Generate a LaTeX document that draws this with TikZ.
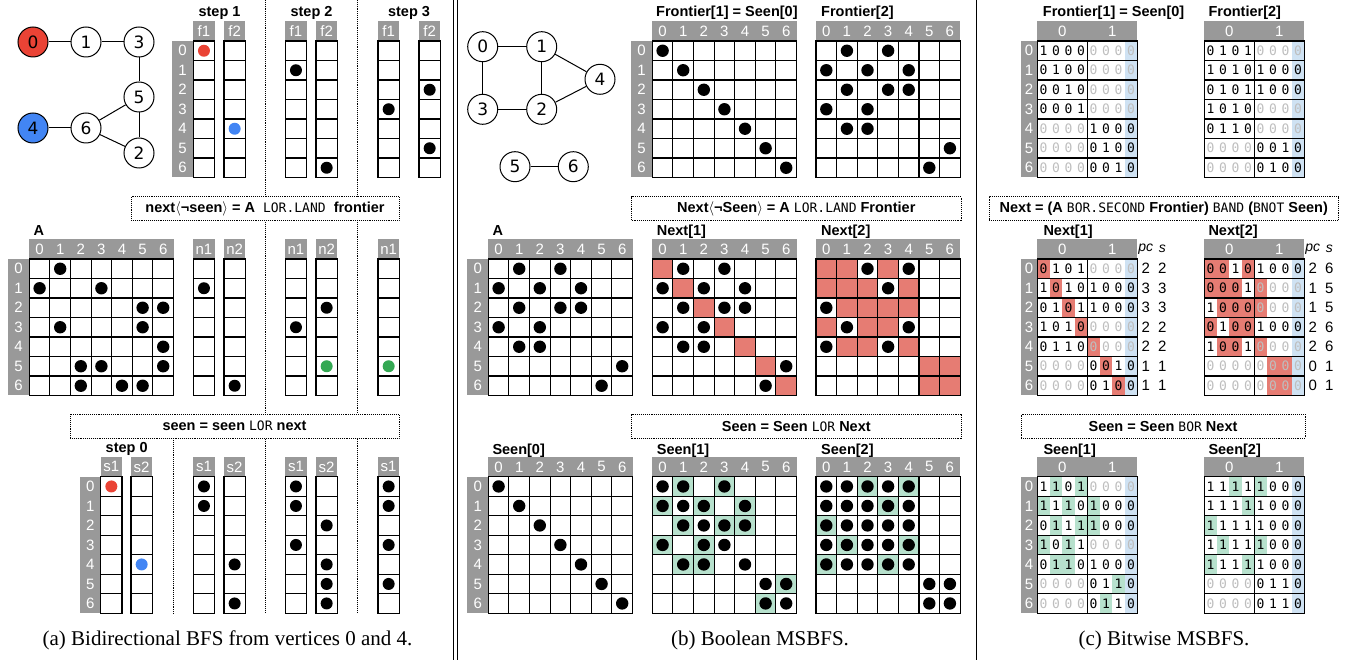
\documentclass[tikz,border=0pt]{standalone}
\usepackage{fontspec}
\setmainfont{Liberation Serif}
\setsansfont{Liberation Sans}
\newfontfamily\gfont{DejaVu Sans}
\newfontfamily\bitfont{DejaVu Sans Mono}
\usetikzlibrary{calc,positioning}

\definecolor{hdrgray}{RGB}{153,153,153}
\definecolor{srcred}{RGB}{234,67,53}
\definecolor{srcblue}{RGB}{66,133,244}
\definecolor{dotgreen}{RGB}{52,168,83}
\definecolor{shred}{RGB}{230,124,115}
\definecolor{shgreen}{RGB}{183,225,205}
\definecolor{bitblue}{RGB}{207,226,243}
\definecolor{faint}{RGB}{190,190,190}

\newcommand{\hdrfs}{\sffamily\fontsize{15}{15}\selectfont}
\newcommand{\ttlfs}{\sffamily\bfseries\fontsize{14.5}{14.5}\selectfont}
\newcommand{\opfs}{\bitfont\mdseries\fontsize{13}{13}\selectfont}
\newcommand{\capfs}{\rmfamily\fontsize{21}{21}\selectfont}

\tikzset{
  hdrtxt/.style={text=white, font=\hdrfs, inner sep=0pt},
  ttl/.style={font=\ttlfs, inner sep=0pt, anchor=base west},
  gridline/.style={line width=1.1pt, line cap=rect},
  opbox/.style={draw, densely dotted, line width=0.9pt, fill=white, font=\ttlfs, inner sep=0pt},
  gnode/.style={circle, draw, line width=1pt, minimum size=30pt, inner sep=0pt, font=\gfont\fontsize{17}{17}\selectfont},
  gedge/.style={line width=1pt},
  bittxt/.style={font=\bitfont\fontsize{13}{13}\selectfont, inner sep=0pt},
  pctxt/.style={font=\sffamily\fontsize{15}{15}\selectfont, inner sep=0pt},
  sepline/.style={densely dotted, line width=0.9pt},
  capt/.style={font=\capfs, inner sep=0pt, anchor=base}
}

% adjacency / frontier data (row/col)
\def\Aa{0/1,1/0,1/3,2/5,2/6,3/1,3/5,4/6,5/2,5/3,5/6,6/2,6/4,6/5}
\def\Ab{0/1,0/3,1/0,1/2,1/4,2/1,2/3,2/4,3/0,3/2,4/1,4/2,5/6,6/5}
\def\Diag{0/0,1/1,2/2,3/3,4/4,5/5,6/6}
\def\Sone{0/0,0/1,0/3,1/0,1/1,1/2,1/4,2/1,2/2,2/3,2/4,3/0,3/2,3/3,4/1,4/2,4/4,5/5,5/6,6/5,6/6}
\def\Ntwo{0/2,0/4,1/3,2/0,3/1,3/4,4/0,4/3}
\def\Stwo{0/0,0/1,0/2,0/3,0/4,1/0,1/1,1/2,1/3,1/4,2/0,2/1,2/2,2/3,2/4,3/0,3/1,3/2,3/3,3/4,4/0,4/1,4/2,4/3,4/4,5/5,5/6,6/5,6/6}

% bit rows, o = faint zero
\def\bitsFone{0/{1,0,0,0,o,o,o,o},1/{0,1,0,0,o,o,o,o},2/{0,0,1,0,o,o,o,o},3/{0,0,0,1,o,o,o,o},4/{o,o,o,o,1,0,0,0},5/{o,o,o,o,0,1,0,0},6/{o,o,o,o,0,0,1,0}}
\def\bitsA{0/{0,1,0,1,o,o,o,o},1/{1,0,1,0,1,0,0,0},2/{0,1,0,1,1,0,0,0},3/{1,0,1,0,o,o,o,o},4/{0,1,1,0,o,o,o,o},5/{o,o,o,o,0,0,1,0},6/{o,o,o,o,0,1,0,0}}
\def\bitsNtwo{0/{0,0,1,0,1,0,0,0},1/{0,0,0,1,o,o,o,o},2/{1,0,0,0,o,o,o,o},3/{0,1,0,0,1,0,0,0},4/{1,0,0,1,o,o,o,o},5/{o,o,o,o,o,o,o,o},6/{o,o,o,o,o,o,o,o}}
\def\bitsSone{0/{1,1,0,1,o,o,o,o},1/{1,1,1,0,1,0,0,0},2/{0,1,1,1,1,0,0,0},3/{1,0,1,1,o,o,o,o},4/{0,1,1,0,1,0,0,0},5/{o,o,o,o,0,1,1,0},6/{o,o,o,o,0,1,1,0}}
\def\bitsStwo{0/{1,1,1,1,1,0,0,0},1/{1,1,1,1,1,0,0,0},2/{1,1,1,1,1,0,0,0},3/{1,1,1,1,1,0,0,0},4/{1,1,1,1,1,0,0,0},5/{o,o,o,o,0,1,1,0},6/{o,o,o,o,0,1,1,0}}
\def\pcNone{0/2/2,1/3/3,2/3/3,3/2/2,4/2/2,5/1/1,6/1/1}
\def\pcNtwo{0/2/6,1/1/5,2/1/5,3/2/6,4/2/6,5/0/1,6/0/1}

% gray strip with row numbers
\newcommand{\rowstrip}[3]{%
  \fill[hdrgray] (#1,#2) rectangle (#1+#3,#2+136.5);
  \foreach \r in {0,...,6}
    \node[hdrtxt] at (#1+#3/2,#2+19.5*\r+9.75) {\r};
}
% one vector column: x, y, header, dots
\newcommand{\vcol}[4]{%
  \fill[hdrgray] (#1,#2-19.7) rectangle (#1+21.3,#2);
  \node[hdrtxt] at (#1+10.65,#2-9.85) {#3};
  \foreach \r in {0,...,6}
    \draw[gridline] (#1,#2+19.5*\r) rectangle (#1+21.3,#2+19.5*\r+19.5);
  \foreach \r/\c in {#4}
    \fill[fill=\c] (#1+10.65,#2+19.5*\r+9.75) circle (6);
}
% boolean matrix
\newcommand{\bshade}[4]{%
  \foreach \r/\c in #3
    \fill[fill=#4] (#1+20.6*\c,#2+19.5*\r) rectangle ++(20.6,19.5);
}
\newcommand{\bmat}[3]{%
  \fill[hdrgray] (#1,#2-19.7) rectangle (#1+144.2,#2);
  \foreach \c in {0,...,6}
    \node[hdrtxt] at (#1+20.6*\c+10.3,#2-9.85) {\c};
  \foreach \i in {0,...,7} {
    \draw[gridline] (#1+20.6*\i,#2) -- (#1+20.6*\i,#2+136.5);
    \draw[gridline] (#1,#2+19.5*\i) -- (#1+144.2,#2+19.5*\i);
  }
  \foreach \r/\c in #3
    \fill (#1+20.6*\c+10.3,#2+19.5*\r+9.75) circle (6.2);
}
% bitwise matrix
\newcommand{\wshade}[4]{%
  \foreach \r/\k in #3
    \fill[fill=#4] (#1+12.5*\k,#2+19.5*\r) rectangle ++(12.5,19.5);
}
\newcommand{\wmat}[3]{%
  \fill[hdrgray] (#1,#2-19.7) rectangle (#1+100,#2);
  \node[hdrtxt] at (#1+25,#2-9.85) {0};
  \node[hdrtxt] at (#1+75,#2-9.85) {1};
  \fill[bitblue] (#1+87.5,#2) rectangle (#1+100,#2+136.5);
  \foreach \r/\bits in #3
    \foreach \d [count=\k from 0] in \bits {
      \if o\d \node[bittxt,text=faint] at (#1+12.5*\k+6.25,#2+19.5*\r+9.75) {0};
      \else \node[bittxt] at (#1+12.5*\k+6.25,#2+19.5*\r+9.75) {\d}; \fi
    }
  \foreach \i in {0,...,7}
    \draw[gridline] (#1,#2+19.5*\i) -- (#1+100,#2+19.5*\i);
  \foreach \i in {0,1,2}
    \draw[gridline] (#1+50*\i,#2) -- (#1+50*\i,#2+136.5);
}
\newcommand{\pcs}[3]{%
  \node[pctxt,font=\sffamily\itshape\fontsize{14}{14}\selectfont] at (#1+108.5,#2-9.85) {pc};
  \node[pctxt,font=\sffamily\itshape\fontsize{14}{14}\selectfont] at (#1+125,#2-9.85) {s};
  \foreach \r/\pv/\sv in #3 {
    \node[pctxt] at (#1+108.5,#2+19.5*\r+9.75) {\pv};
    \node[pctxt] at (#1+125,#2+19.5*\r+9.75) {\sv};
  }
}

\begin{document}
\begin{tikzpicture}[x=1pt,y=-1pt]
\useasboundingbox (0,0) rectangle (1353,660);

% panel separators
\draw[line width=0.9pt] (453.3,0) -- (453.3,660);
\draw[line width=0.9pt] (457.3,0) -- (457.3,660);
\draw[line width=0.9pt] (976,0) -- (976,660);

%%% (a) bidirectional BFS
\node[gnode,fill=srcred] (a0) at (33,42) {0};
\node[gnode] (a1) at (86,42) {1};
\node[gnode] (a3) at (139,42) {3};
\node[gnode] (a5) at (139,97) {5};
\node[gnode,fill=srcblue] (a4) at (33,128) {4};
\node[gnode] (a6) at (86,128) {6};
\node[gnode] (a2) at (139,153) {2};
\foreach \u/\v in {a0/a1,a1/a3,a3/a5,a5/a6,a5/a2,a6/a2,a4/a6}
  \draw[gedge] (\u) -- (\v);

\draw[sepline] (265.7,0) -- (265.7,613.3);
\draw[sepline] (357.7,0) -- (357.7,613.3);
\draw[sepline] (173,438.3) -- (173,613.3);

\node[ttl,anchor=base] (st1) at (219.5,17) {step 1};
\node[ttl,anchor=base] (st2) at (311.5,17) {step 2};
\node[ttl,anchor=base] (st3) at (409,17) {step 3};
\rowstrip{172}{41}{21.3}
\vcol{193.3}{41}{f1}{0/srcred}
\vcol{224}{41}{f2}{4/srcblue}
\vcol{285.3}{41}{f1}{1/black}
\vcol{316}{41}{f2}{6/black}
\vcol{378}{41}{f1}{3/black}
\vcol{419}{41}{f2}{2/black,5/black}

\node[opbox,minimum width=268pt,minimum height=24pt] (nexta) at (265,208.7)
  {next$\langle$¬seen$\rangle$ = A\ \ {\opfs LOR.LAND}\ \ frontier};

\node[ttl] (ta) at (33.5,235.5) {A};
\rowstrip{8}{259}{21.3}
\bmat{29.3}{259}{\Aa}
\vcol{193.3}{259}{n1}{1/black}
\vcol{224}{259}{n2}{6/black}
\vcol{285.3}{259}{n1}{3/black}
\vcol{316}{259}{n2}{2/black,5/dotgreen}
\vcol{378}{259}{n1}{5/dotgreen}

\node[opbox,minimum width=329pt,minimum height=24pt] (seena) at (234.5,426.2)
  {seen = seen {\opfs LOR} next};

\node[ttl,anchor=base] (st0) at (126.7,453) {step 0};
\rowstrip{80}{476.7}{20.7}
\vcol{100.7}{476.7}{s1}{0/srcred}
\vcol{131}{476.7}{s2}{4/srcblue}
\vcol{193.3}{476.7}{s1}{0/black,1/black}
\vcol{224}{476.7}{s2}{4/black,6/black}
\vcol{285.3}{476.7}{s1}{0/black,1/black,3/black}
\vcol{316}{476.7}{s2}{2/black,4/black,5/black,6/black}
\vcol{378}{476.7}{s1}{0/black,1/black,3/black,5/black}

\node[capt] (capa) at (227.5,645) {(a) Bidirectional BFS from vertices 0 and 4.};

%%% (b) boolean MSBFS
\node[gnode] (b0) at (482.7,46.7) {0};
\node[gnode] (b1) at (541.7,46.7) {1};
\node[gnode] (b4) at (600,79.3) {4};
\node[gnode] (b3) at (482.7,109.3) {3};
\node[gnode] (b2) at (541.7,109.3) {2};
\node[gnode] (b5) at (515,166.7) {5};
\node[gnode] (b6) at (573.3,166.7) {6};
\foreach \u/\v in {b0/b1,b0/b3,b1/b2,b1/b4,b3/b2,b2/b4,b5/b6}
  \draw[gedge] (\u) -- (\v);

\node[ttl] (tfb1) at (656,17) {Frontier[1] = Seen[0]};
\rowstrip{631}{41}{21.3}
\bmat{652.3}{41}{\Diag}
\node[ttl] (tfb2) at (821,17) {Frontier[2]};
\bmat{816}{41}{\Ab}

\node[opbox,minimum width=329.3pt,minimum height=24pt] (nextb) at (796.3,208.7)
  {Next$\langle$¬Seen$\rangle$ = A {\opfs LOR.LAND} Frontier};

\node[ttl] (tab) at (492.3,235.5) {A};
\rowstrip{467.3}{259}{21}
\bmat{488.3}{259}{\Ab}
\node[ttl] (tnb1) at (656.7,235.5) {Next[1]};
\bshade{652.3}{259}{\Diag}{shred}
\bmat{652.3}{259}{\Ab}
\node[ttl] (tnb2) at (821,235.5) {Next[2]};
\bshade{816}{259}{\Sone}{shred}
\bmat{816}{259}{\Ntwo}

\node[opbox,minimum width=329.3pt,minimum height=24.3pt] (seenb) at (796.3,426.2)
  {Seen = Seen {\opfs LOR} Next};

\node[ttl] (tsb0) at (492.3,454) {Seen[0]};
\rowstrip{467.3}{476.7}{21}
\bmat{488.3}{476.7}{\Diag}
\node[ttl] (tsb1) at (656.7,454) {Seen[1]};
\bshade{652.3}{476.7}{\Ab}{shgreen}
\bmat{652.3}{476.7}{\Sone}
\node[ttl] (tsb2) at (821,454) {Seen[2]};
\bshade{816}{476.7}{\Ntwo}{shgreen}
\bmat{816}{476.7}{\Stwo}

\node[capt] (capb) at (760,645) {(b) Boolean MSBFS.};

%%% (c) bitwise MSBFS
\node[ttl] (tfc1) at (1042.7,17) {Frontier[1] = Seen[0]};
\rowstrip{1021}{41}{16.3}
\wmat{1037.3}{41}{\bitsFone}
\node[ttl] (tfc2) at (1208.3,17) {Frontier[2]};
\wmat{1204.3}{41}{\bitsA}

\node[opbox,minimum width=349pt,minimum height=24pt] (nextc) at (1163.8,208.7)
  {Next = (A {\opfs BOR.SECOND} Frontier) {\opfs BAND} ({\opfs BNOT} Seen)};

\node[ttl] (tnc1) at (1043.3,235.5) {Next[1]};
\rowstrip{1021}{259}{16.3}
\wshade{1037.3}{259}{\Diag}{shred}
\wmat{1037.3}{259}{\bitsA}
\pcs{1037.3}{259}{\pcNone}
\node[ttl] (tnc2) at (1208.3,235.5) {Next[2]};
\wshade{1204.3}{259}{\Sone}{shred}
\wmat{1204.3}{259}{\bitsNtwo}
\pcs{1204.3}{259}{\pcNtwo}

\node[opbox,minimum width=284pt,minimum height=24.3pt] (seenc) at (1163,426.2)
  {Seen = Seen {\opfs BOR} Next};

\node[ttl] (tsc1) at (1043.3,454) {Seen[1]};
\rowstrip{1021}{476.7}{16.3}
\wshade{1037.3}{476.7}{\Ab}{shgreen}
\wmat{1037.3}{476.7}{\bitsSone}
\node[ttl] (tsc2) at (1208.3,454) {Seen[2]};
\wshade{1204.3}{476.7}{\Ntwo}{shgreen}
\wmat{1204.3}{476.7}{\bitsStwo}

\node[capt] (capc) at (1164,645) {(c) Bitwise MSBFS.};
\end{tikzpicture}
\end{document}
